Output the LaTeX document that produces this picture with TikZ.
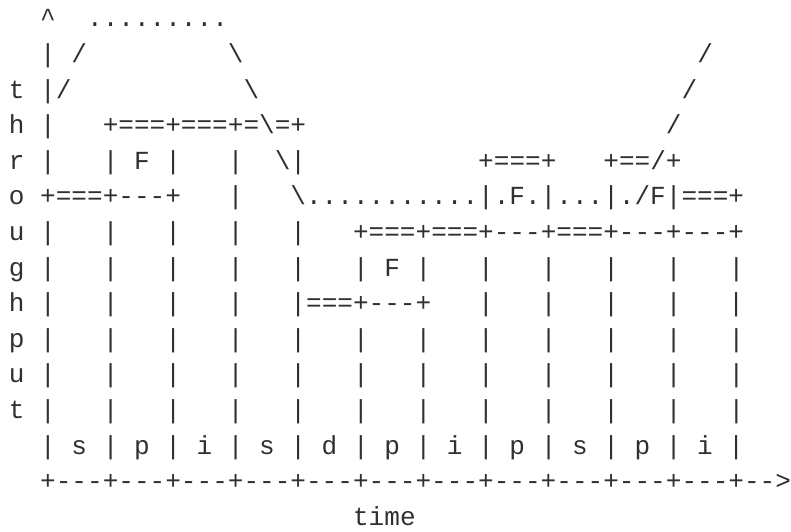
\documentclass[tikz,border=0pt]{standalone}
\usepackage{fontspec}
\newfontfamily\asciifont{Liberation Mono}
\definecolor{ink}{HTML}{303030}
% blank columns, backslash, and a hyphen that never joins into a dash
\newcommand\gap[1]{\hskip#1\fontcharwd\font`\M\relax}
\newcommand\bs{\textbackslash}
\newcommand\hy{-\kern0pt}
\newcommand\dsh{\hy\hy\hy}
\begin{document}
\begin{tikzpicture}[x=1pt, y=-1pt,
  asciiline/.style={anchor=base west, inner sep=0pt, outer sep=0pt, text=ink,
    font=\asciifont\fontsize{26.07}{35.6}\selectfont}]
\useasboundingbox (0,0) rectangle (791,531);
\node[asciiline] (l0)  at (8.9, 26.8)  {\gap2\textasciicircum\gap2.........};
\node[asciiline] (l1)  at (8.9, 62.4)  {\gap2|\gap1/\gap9\bs\gap{29}/};
\node[asciiline] (l2)  at (8.9, 98.0)  {t\gap1|/\gap{11}\bs\gap{27}/};
\node[asciiline] (l3)  at (8.9, 133.6) {h\gap1|\gap3+===+===+=\bs=+\gap{23}/};
\node[asciiline] (l4)  at (8.9, 169.2) {r\gap1|\gap3|\gap1F\gap1|\gap3|\gap2\bs|\gap{11}+===+\gap3+==/+};
\node[asciiline] (l5)  at (8.9, 204.8) {o\gap1+===+\dsh+\gap3|\gap3\bs...........|.F.|...|./F|===+};
\node[asciiline] (l6)  at (8.9, 240.4) {u\gap1|\gap3|\gap3|\gap3|\gap3|\gap3+===+===+\dsh+===+\dsh+\dsh+};
\node[asciiline] (l7)  at (8.9, 276.0) {g\gap1|\gap3|\gap3|\gap3|\gap3|\gap3|\gap1F\gap1|\gap3|\gap3|\gap3|\gap3|\gap3|};
\node[asciiline] (l8)  at (8.9, 311.6) {h\gap1|\gap3|\gap3|\gap3|\gap3|===+\dsh+\gap3|\gap3|\gap3|\gap3|\gap3|};
\node[asciiline] (l9)  at (8.9, 347.2) {p\gap1|\gap3|\gap3|\gap3|\gap3|\gap3|\gap3|\gap3|\gap3|\gap3|\gap3|\gap3|};
\node[asciiline] (l10) at (8.9, 382.8) {u\gap1|\gap3|\gap3|\gap3|\gap3|\gap3|\gap3|\gap3|\gap3|\gap3|\gap3|\gap3|};
\node[asciiline] (l11) at (8.9, 418.4) {t\gap1|\gap3|\gap3|\gap3|\gap3|\gap3|\gap3|\gap3|\gap3|\gap3|\gap3|\gap3|};
\node[asciiline] (l12) at (8.9, 454.0) {\gap2|\gap1s\gap1|\gap1p\gap1|\gap1i\gap1|\gap1s\gap1|\gap1d\gap1|\gap1p\gap1|\gap1i\gap1|\gap1p\gap1|\gap1s\gap1|\gap1p\gap1|\gap1i\gap1|};
\node[asciiline] (l13) at (8.9, 489.6) {\gap2+\dsh+\dsh+\dsh+\dsh+\dsh+\dsh+\dsh+\dsh+\dsh+\dsh+\dsh+\hy\hy>};
\node[asciiline] (l14) at (8.9, 525.2) {\gap{22}time};
\end{tikzpicture}
\end{document}
